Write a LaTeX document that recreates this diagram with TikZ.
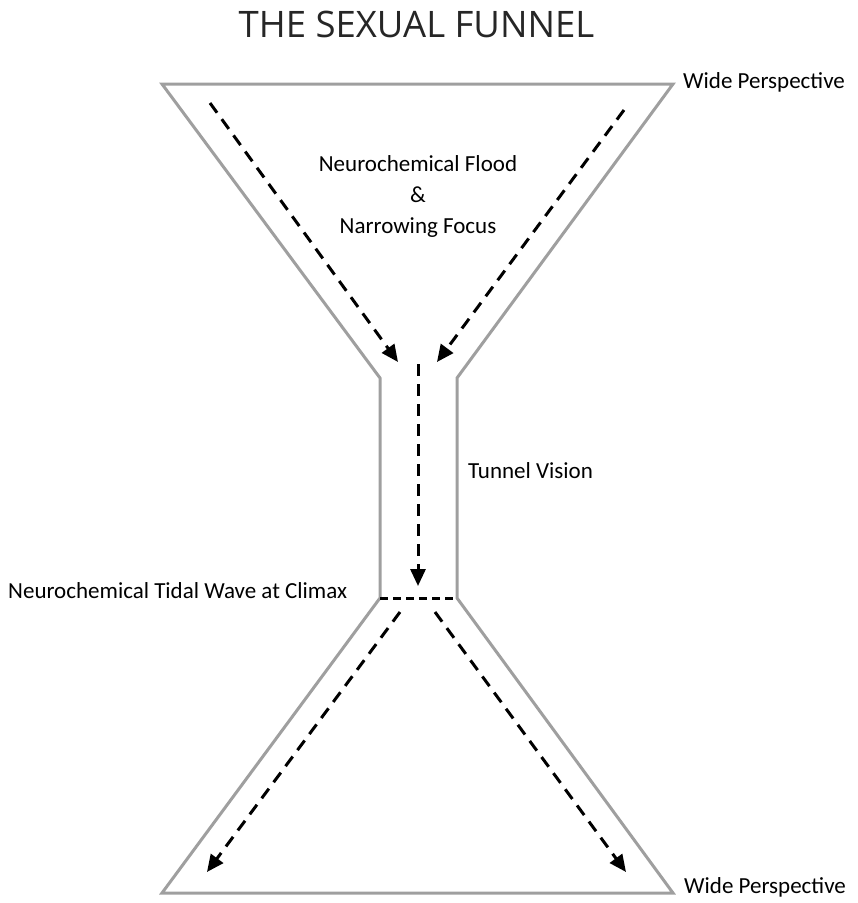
\documentclass[tikz,border=0pt]{standalone}
\usepackage{fontspec}
\setmainfont{Carlito}
\newfontfamily\titlefont{Open Sans}
\usepackage{tikz}
\usetikzlibrary{positioning, arrows.meta}

\tikzset{
    funnel/.style={draw=gray!75, line width=3pt, line join=miter},
    flow/.style={line width=3pt, dash pattern=on 12pt off 8pt, -{Triangle[length=17pt,width=15pt]}},
    lbl/.style={font=\fontsize{23}{31}\selectfont, text=black, inner sep=0pt}
}

\begin{document}
\begin{tikzpicture}[x=1pt, y=-1pt]
    \useasboundingbox (0,0) rectangle (858,903);
    % outline of the funnel
    \coordinate (TL) at (162,84);
    \coordinate (TR) at (673,84);
    \coordinate (NL) at (380,378);
    \coordinate (NR) at (457,378);
    \coordinate (ML) at (380,598);
    \coordinate (MR) at (457,598);
    \coordinate (BL) at (162,893);
    \coordinate (BR) at (673,893);
    \draw[funnel] (TL) -- (TR) -- (NR) -- (MR) -- (BR) -- (BL) -- (ML) -- (NL) -- cycle;
    \draw[line width=3pt, dash pattern=on 8pt off 5pt] (ML) -- (MR);
    % flow arrows
    \coordinate (A1) at (210,103);
    \coordinate (A2) at (398,362);
    \coordinate (B1) at (624,110);
    \coordinate (B2) at (437,362);
    \coordinate (C1) at (418,364);
    \coordinate (C2) at (418,586);
    \coordinate (D1) at (400,612);
    \coordinate (D2) at (207,872);
    \coordinate (E1) at (435,612);
    \coordinate (E2) at (626,872);
    \draw[flow] (A1) -- (A2);
    \draw[flow] (B1) -- (B2);
    \draw[flow] (C1) -- (C2);
    \draw[flow] (D1) -- (D2);
    \draw[flow] (E1) -- (E2);
    % labels
    \node[font=\titlefont\fontsize{36.5}{40}\selectfont, text=black!85, anchor=base, inner sep=0pt] (title) at (416.5,37) {THE SEXUAL FUNNEL};
    \node[lbl, anchor=base west] (wideT) at (683,88) {Wide Perspective};
    \node[lbl, anchor=base west] (wideB) at (684,893) {Wide Perspective};
    \node[lbl, align=center] (flood) at (418,196) {Neurochemical Flood\\\&\\Narrowing Focus};
    \node[lbl, anchor=base west] (tunnel) at (468,478) {Tunnel Vision};
    \node[lbl, anchor=base west] (climax) at (8,598) {Neurochemical Tidal Wave at Climax};
\end{tikzpicture}
\end{document}
